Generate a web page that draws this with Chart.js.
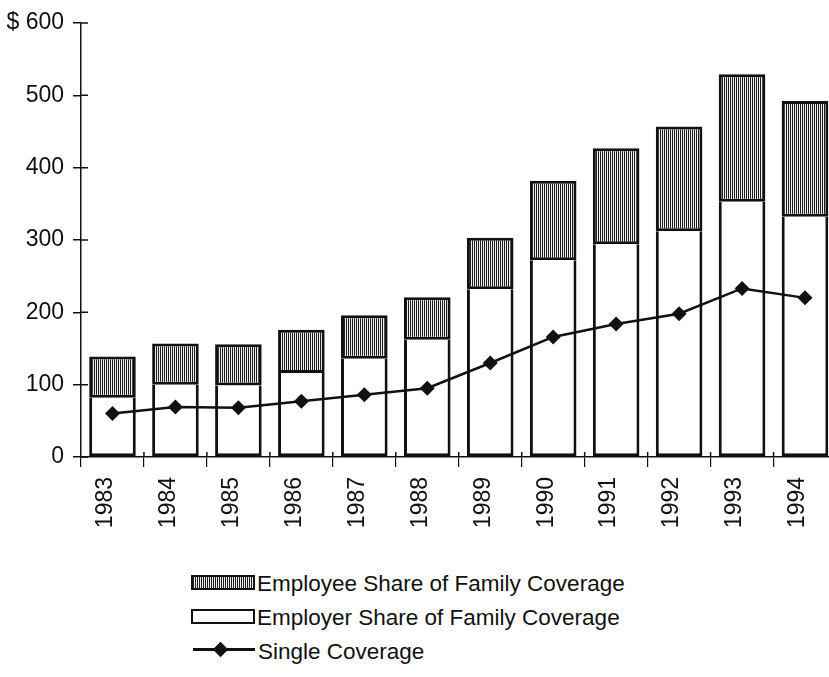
<!DOCTYPE html>
<html>
<head>
<meta charset="utf-8">
<script src="https://cdn.jsdelivr.net/npm/chart.js@4/dist/chart.umd.min.js"></script>
<style>
  html, body { margin: 0; padding: 0; background: #fff; overflow: hidden; }
  body { width: 829px; height: 677px; position: relative; font-family: "Liberation Sans", Arial, sans-serif; color: #111; }
  #wrap { position: absolute; left: 0; top: 0; width: 844px; height: 545px; }
  .lg-box { position: absolute; width: 60px; height: 11px; border: 2px solid #111; background: #fff; }
  .lg-box.hatch { background: repeating-linear-gradient(90deg, #1e1e1e 0 1px, #eeeeee 1px 2px); }
  .lg-text { position: absolute; font-size: 22.5px; line-height: 23px; white-space: nowrap; }
  .lg-line { position: absolute; width: 62px; height: 2.5px; background: #111; }
  .lg-diamond { position: absolute; width: 11px; height: 11px; background: #111; transform: rotate(45deg); }
</style>
</head>
<body>
<div id="wrap"><canvas id="chart" width="844" height="545"></canvas></div>

<div class="lg-box hatch" style="left:191px; top:575px;"></div>
<div class="lg-text" style="left:257px; top:572px;">Employee Share of Family Coverage</div>
<div class="lg-box" style="left:191px; top:609px;"></div>
<div class="lg-text" style="left:257px; top:606px;">Employer Share of Family Coverage</div>
<div class="lg-line" style="left:193px; top:648px;"></div>
<div class="lg-diamond" style="left:215px; top:643.5px;"></div>
<div class="lg-text" style="left:258px; top:640px;">Single Coverage</div>

<script>
// Monthly premiums, in dollars
const years = ['1983', '1984', '1985', '1986', '1987', '1988', '1989', '1990', '1991', '1992', '1993', '1994'];
const employerShare = [82, 100, 99, 116, 136, 162, 232, 272, 294, 312, 353, 332];
const employeeShare = [57, 57, 57, 60, 60, 59, 71, 110, 133, 145, 176, 160];
const singleCoverage = [60, 69, 68, 77, 86, 95, 130, 166, 184, 198, 233, 220];
const yTicks = [0, 100, 200, 300, 400, 500, 600];

// fine vertical stripes for the employee share
function stripePattern() {
  const c = document.createElement('canvas');
  c.width = 2; c.height = 4;
  const g = c.getContext('2d');
  g.fillStyle = '#eeeeee'; g.fillRect(0, 0, 2, 4);
  g.fillStyle = '#1e1e1e'; g.fillRect(0, 0, 1, 4);
  return g.createPattern(c, 'repeat');
}

// short tick marks on the inner side of both axes
const innerTicks = {
  id: 'innerTicks',
  afterDraw(chart) {
    const { ctx, chartArea, scales } = chart;
    ctx.save();
    ctx.strokeStyle = '#111';
    ctx.lineWidth = 1.5;
    ctx.beginPath();
    yTicks.forEach(v => {
      const y = scales.y.getPixelForValue(v);
      ctx.moveTo(chartArea.left, y);
      ctx.lineTo(chartArea.left + 7, y);
    });
    const step = scales.x.width / years.length;
    years.forEach((_, i) => {
      const x = scales.x.getPixelForValue(i) + step / 2;
      ctx.moveTo(x, chartArea.bottom);
      ctx.lineTo(x, chartArea.bottom - 5);
    });
    ctx.stroke();
    ctx.restore();
  }
};

new Chart(document.getElementById('chart'), {
  data: {
    labels: years,
    datasets: [
      {
        type: 'line',
        label: 'Single Coverage',
        data: singleCoverage,
        stack: 'single',
        order: 0,
        borderColor: '#111',
        backgroundColor: '#111',
        borderWidth: 2.5,
        tension: 0,
        pointStyle: 'rectRot',
        pointRadius: 7.5,
        pointBorderWidth: 0,
        pointBackgroundColor: '#111'
      },
      {
        type: 'bar',
        label: 'Employer Share of Family Coverage',
        data: employerShare,
        stack: 'family',
        order: 1,
        backgroundColor: '#ffffff',
        borderColor: '#111',
        borderWidth: 3,
        borderSkipped: 'end',
        barPercentage: 0.74,
        categoryPercentage: 1
      },
      {
        type: 'bar',
        label: 'Employee Share of Family Coverage',
        data: employeeShare,
        stack: 'family',
        order: 2,
        backgroundColor: stripePattern(),
        borderColor: '#111',
        borderWidth: 3,
        borderSkipped: false,
        barPercentage: 0.74,
        categoryPercentage: 1
      }
    ]
  },
  options: {
    responsive: false,
    animation: false,
    devicePixelRatio: 1,
    layout: { padding: { top: 23, left: 0, right: 0, bottom: 0 } },
    plugins: { legend: { display: false }, tooltip: { enabled: false } },
    scales: {
      x: {
        stacked: true,
        offset: true,
        afterFit(scale) { scale.height = 88; },
        border: { display: true, color: '#111', width: 1.5 },
        grid: { display: true, offset: true, drawOnChartArea: false, drawTicks: true, tickLength: 10, color: '#111', lineWidth: 1.2 },
        ticks: {
          minRotation: 90, maxRotation: 90, autoSkip: false,
          padding: 10, labelOffset: -7,
          color: '#111',
          font: { family: '"Liberation Sans", Arial, sans-serif', size: 23 }
        }
      },
      y: {
        stacked: true,
        min: 0, max: 600,
        afterFit(scale) { scale.width = 81; },
        afterBuildTicks(scale) { scale.ticks = yTicks.map(v => ({ value: v })); },
        border: { display: true, color: '#111', width: 1.5 },
        grid: { display: true, drawOnChartArea: false, drawTicks: true, tickLength: 8, color: '#111', lineWidth: 1.5 },
        ticks: {
          padding: 9,
          color: '#111',
          font: { family: '"Liberation Sans", Arial, sans-serif', size: 23 },
          callback: v => (v === 600 ? '$ 600' : String(v))
        }
      }
    }
  },
  plugins: [innerTicks]
});
</script>
</body>
</html>
